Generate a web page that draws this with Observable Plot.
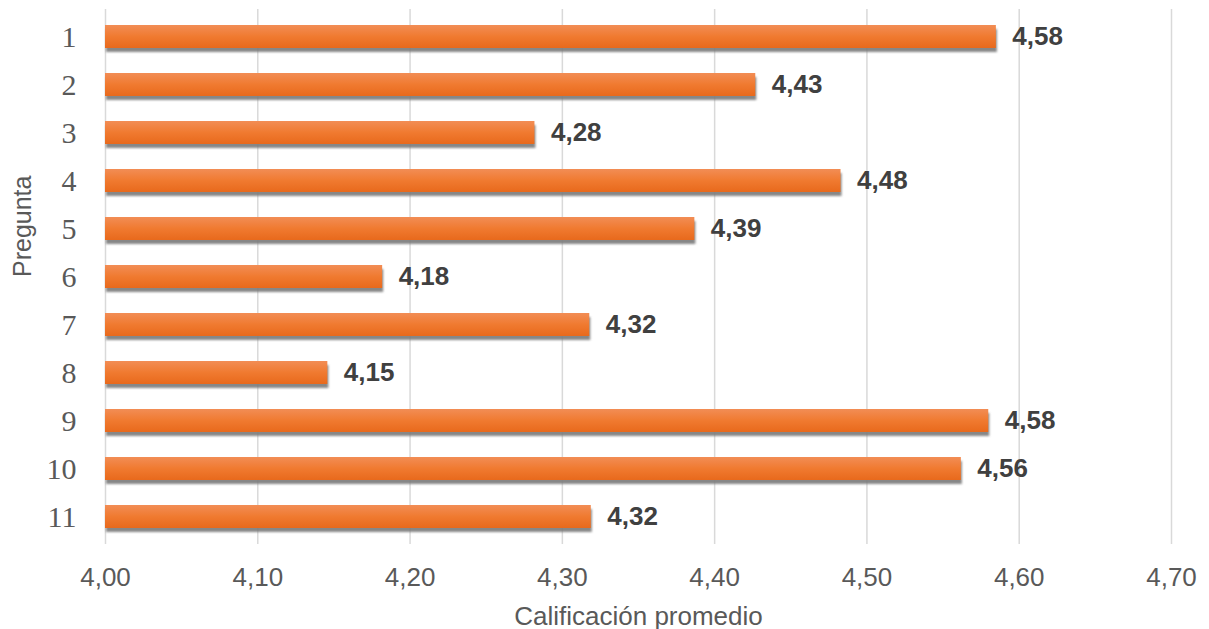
<!DOCTYPE html>
<html>
<head>
<meta charset="utf-8">
<script src="https://cdn.jsdelivr.net/npm/d3@7"></script>
<script src="https://cdn.jsdelivr.net/npm/@observablehq/plot@0.6"></script>
<style>
  html, body { margin: 0; padding: 0; background: #ffffff; }
  #chart { width: 1209px; height: 629px; }
</style>
</head>
<body>
<div id="chart"></div>
<script>
const preguntas = ["1", "2", "3", "4", "5", "6", "7", "8", "9", "10", "11"];
const valores = [4.585, 4.427, 4.282, 4.483, 4.387, 4.182, 4.318, 4.146, 4.580, 4.562, 4.319];
const etiquetas = ["4,58", "4,43", "4,28", "4,48", "4,39", "4,18", "4,32", "4,15", "4,58", "4,56", "4,32"];
const ticksX = [4.0, 4.1, 4.2, 4.3, 4.4, 4.5, 4.6, 4.7];
const tituloX = "Calificación promedio";
const tituloY = "Pregunta";

const datos = preguntas.map((p, i) => ({pregunta: p, valor: valores[i], etiqueta: etiquetas[i]}));
const fmt = d => d3.format(".2f")(d).replace(".", ",");

const chart = Plot.plot({
  width: 1209,
  height: 629,
  marginLeft: 105,
  marginRight: 38,
  marginTop: 9,
  marginBottom: 85,
  style: {background: "#ffffff", overflow: "visible"},
  x: {domain: [4.0, 4.7]},
  y: {domain: preguntas, paddingInner: 0.52, paddingOuter: 0.26},
  marks: [
    Plot.gridX(ticksX, {stroke: "#d9d9d9", strokeWidth: 1.5, strokeOpacity: 1}),
    Plot.axisX(ticksX, {
      tickSize: 0, tickPadding: 23, tickFormat: fmt, label: null,
      fontSize: 26, fontFamily: "Liberation Sans, Arial, sans-serif", fill: "#595959"
    }),
    Plot.axisY({
      tickSize: 0, tickPadding: 29, label: null,
      fontSize: 30, fontFamily: "Liberation Serif, Times New Roman, serif", fill: "#595959"
    }),
    // shadow
    Plot.barX(datos, {x1: 4.0, x2: "valor", y: "pregunta", dy: 4, dx: 1, fill: "#7a7a7a", fillOpacity: 0.9}),
    Plot.barX(datos, {x1: 4.0, x2: "valor", y: "pregunta", fill: "url(#gradBarra)"}),
    Plot.text(datos, {
      x: "valor", y: "pregunta", text: "etiqueta", dx: 16, textAnchor: "start",
      fontSize: 26, fontWeight: "bold", fontFamily: "Liberation Sans, Arial, sans-serif", fill: "#404040"
    }),
    Plot.text([tituloX], {
      frameAnchor: "bottom", dy: 80, text: d => d,
      fontSize: 26, fontFamily: "Liberation Sans, Arial, sans-serif", fill: "#595959"
    }),
    Plot.text([tituloY], {
      frameAnchor: "left", dx: -83, rotate: -90, text: d => d,
      fontSize: 25, fontFamily: "Liberation Sans, Arial, sans-serif", fill: "#595959"
    })
  ]
});

const svg = d3.select(chart);
const defs = svg.insert("defs", ":first-child");
const grad = defs.append("linearGradient")
  .attr("id", "gradBarra").attr("x1", 0).attr("y1", 0).attr("x2", 0).attr("y2", 1);
grad.append("stop").attr("offset", "0%").attr("stop-color", "#f28d55");
grad.append("stop").attr("offset", "50%").attr("stop-color", "#f07a30");
grad.append("stop").attr("offset", "100%").attr("stop-color", "#e8691c");
const filt = defs.append("filter").attr("id", "sombra").attr("x", "-5%").attr("y", "-50%").attr("width", "110%").attr("height", "200%");
filt.append("feGaussianBlur").attr("stdDeviation", 1.3);
const bars = svg.selectAll("g[aria-label='bar']").nodes();
if (bars.length) d3.select(bars[0]).attr("filter", "url(#sombra)");

document.getElementById("chart").appendChild(chart);
</script>
</body>
</html>
